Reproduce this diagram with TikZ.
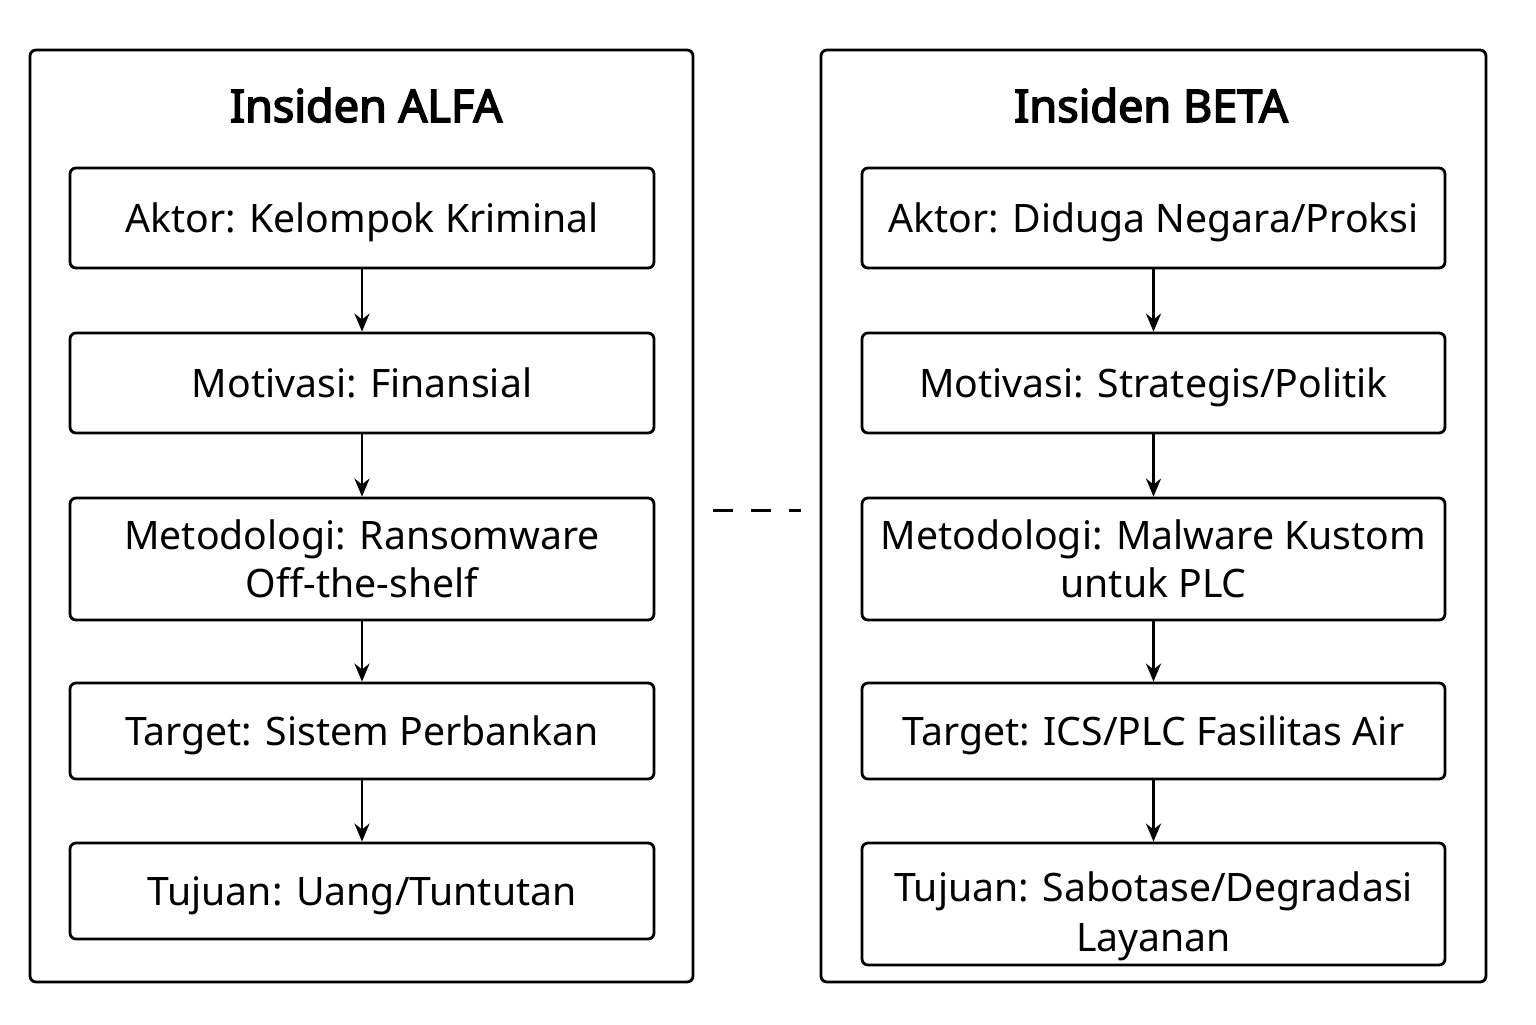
\documentclass[tikz,border=0pt]{standalone}
\usepackage{fontspec}
\setmainfont{Noto Sans}
\newfontfamily\ttlfont{Noto Sans}[FakeBold=3.5]
\usetikzlibrary{arrows.meta,positioning}
\begin{document}
\begin{tikzpicture}[x=0.5pt,y=-0.5pt,
  outer/.style={draw,line width=1.4pt,rounded corners=3pt,inner sep=0pt},
  box/.style={draw,line width=1.4pt,rounded corners=3pt,inner sep=0pt,align=center,font=\fontsize{19.6}{24}\selectfont},
  one/.style={text height=14pt,text depth=0pt},
  ttl/.style={font=\fontsize{22.5}{26}\ttlfont,text height=16pt,text depth=0pt},
  arr/.style={-{Stealth[length=9pt,width=7.5pt]},line width=1.4pt}]
\useasboundingbox (0,0) rectangle (1536,1024);
% outer frames
\node[outer,minimum width=331.5pt,minimum height=466pt] (L) at (361.5,516) {};
\node[outer,minimum width=332.5pt,minimum height=466pt] (R) at (1153.5,516) {};
\node[ttl] (tL) at (366,106) {Insiden ALFA};
\node[ttl] (tR) at (1151,106) {Insiden BETA};
% left
\node[box,one,minimum width=292pt,minimum height=50pt] (a1) at (362,218) {Aktor: Kelompok Kriminal};
\node[box,one,minimum width=292pt,minimum height=50pt] (a2) at (362,383) {Motivasi: Finansial};
\node[box,minimum width=292pt,minimum height=61pt] (a3) at (362,559) {Metodologi: Ransomware\\Off-the-shelf};
\node[box,one,minimum width=292pt,minimum height=48pt] (a4) at (362,731) {Target: Sistem Perbankan};
\node[box,one,minimum width=292pt,minimum height=48pt] (a5) at (362,891) {Tujuan: Uang/Tuntutan};
% right
\node[box,one,minimum width=291.5pt,minimum height=50pt] (b1) at (1153.5,218) {Aktor: Diduga Negara/Proksi};
\node[box,one,minimum width=291.5pt,minimum height=50pt] (b2) at (1153.5,383) {Motivasi: Strategis/Politik};
\node[box,minimum width=291.5pt,minimum height=61pt] (b3) at (1153.5,559) {Metodologi: Malware Kustom\\untuk PLC};
\node[box,one,minimum width=291.5pt,minimum height=48pt] (b4) at (1153.5,731) {Target: ICS/PLC Fasilitas Air};
\node[box,minimum width=291.5pt,minimum height=61pt,font=\fontsize{19.6}{25}\selectfont] (b5) at (1153.5,904) {\rule{0pt}{27pt}Tujuan: Sabotase/Degradasi\\Layanan};
% arrows
\foreach \p/\q in {a1/a2,a2/a3,a3/a4,a4/a5,b1/b2,b2/b3,b3/b4,b4/b5}
  \draw[arr] (\p.south) -- (\q.north);
% dashed link
\coordinate (dl) at (713,510);
\coordinate (dr) at (801,510);
\draw[line width=1.5pt,dash pattern=on 10pt off 9pt] (dl) -- (dr);
\end{tikzpicture}
\end{document}
